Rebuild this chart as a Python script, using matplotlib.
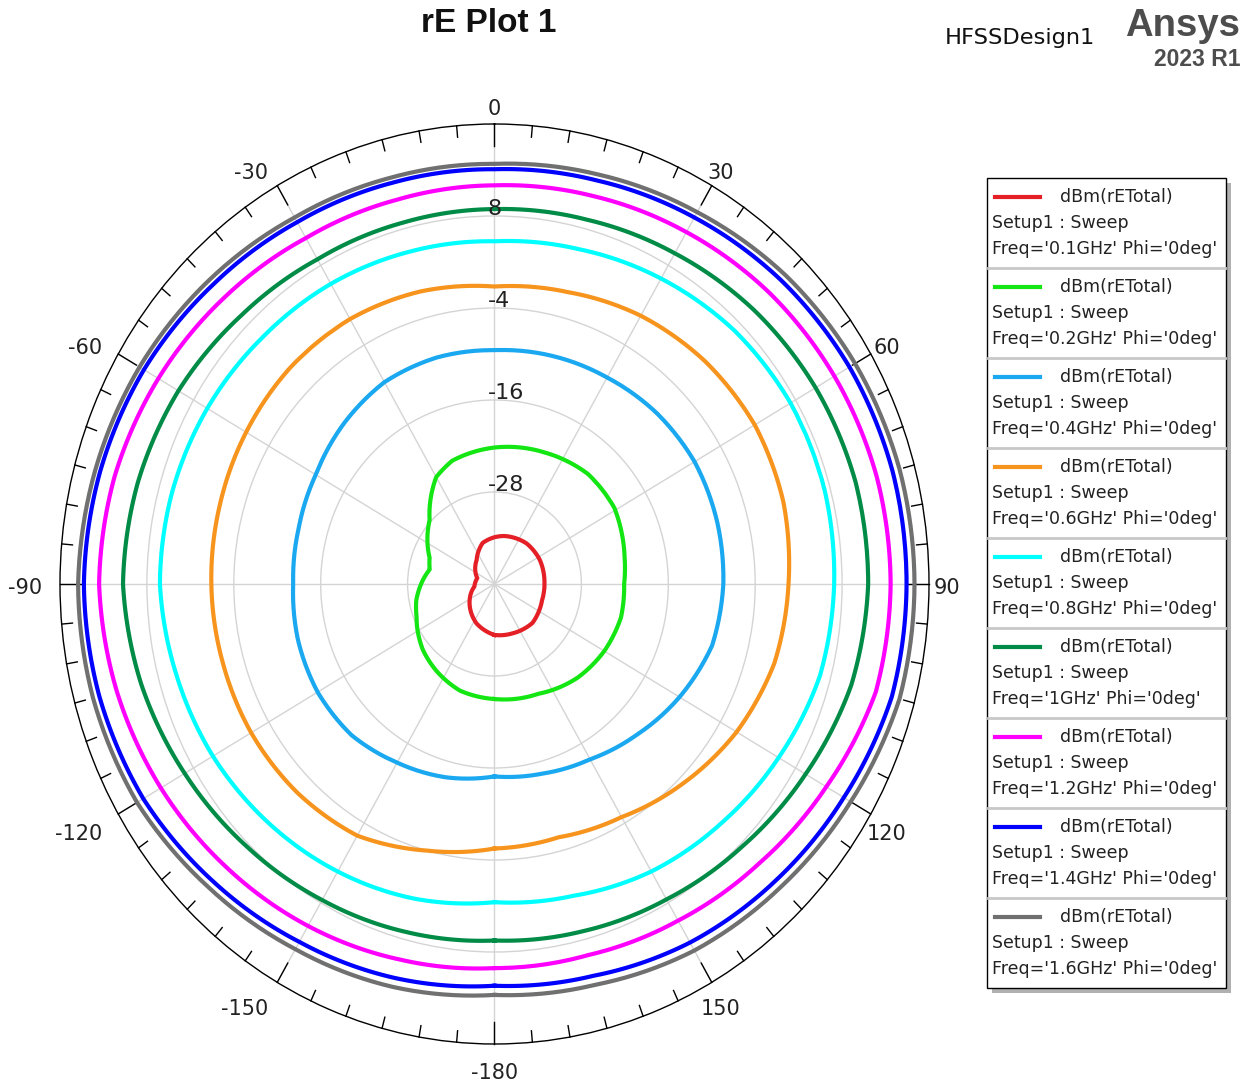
import numpy as np
import matplotlib.pyplot as plt
import matplotlib.transforms as mtransforms
from matplotlib.lines import Line2D
from matplotlib.patches import Rectangle

W, H = 1243, 1082
plt.rcParams['font.family'] = ['DejaVu Sans']

# ---- data (dBm vs theta, deg clockwise from top) ----
freqs = ['0.1GHz', '0.2GHz', '0.4GHz', '0.6GHz', '0.8GHz', '1GHz', '1.2GHz', '1.4GHz', '1.6GHz']
colors = ['#e41f26', '#14e614', '#1aa8f0', '#f7941d', '#00ffff', '#008c46', '#ff00ff', '#0000ff', '#707070']

ang15 = [-180, -165, -150, -135, -120, -105, -90, -75, -60, -45, -30, -15, 0,
         15, 30, 45, 60, 75, 90, 105, 120, 135, 150, 165, 180]

red_ang = [-180, -154, -121, -97, -72, -38, -17, 0, 12, 40, 63, 89, 108, 134, 159, 180]
red_val = [-33.35, -34.3, -36.0, -37.2, -37.5, -36.0, -34.4, -33.9, -33.6, -33.1, -33.0, -33.1, -33.1, -32.7, -33.1, -33.35]

green_ang = [-180, -161, -145, -131, -118, -112, -101, -87, -78, -69, -47, -30, -20, 0,
             22, 42, 59, 79, 90, 104, 120, 137, 157, 180]
green_val = [-25.0, -25.3, -26.1, -26.9, -27.9, -28.4, -29.0, -30.1, -30.85, -30.4, -27.75, -23.9, -22.9, -22.2,
             -21.5, -20.7, -20.7, -21.7, -22.1, -22.0, -22.5, -23.25, -24.45, -25.0]

ltblue_val = [-14.9, -13.9, -13.1, -12.1, -11.8, -11.9, -12.2, -12.0, -11.5, -10.5, -9.6, -9.4, -9.5,
              -9.2, -8.9, -8.4, -8.1, -8.2, -8.4, -8.9, -10.5, -12.2, -13.6, -14.4, -14.9]
orange_val = [-5.5, -4.0, -2.1, -1.5, -1.2, -1.1, -0.9, -0.7, -0.4, -0.1, -0.1, -0.5, -1.2,
              -0.6, 0.4, 1.1, 1.5, 1.3, 0.6, 0.0, -1.4, -3.2, -4.9, -5.8, -5.5]
cyan_val = [1.5, 2.5, 3.3, 4.1, 4.9, 5.5, 6.2, 6.1, 5.8, 5.4, 5.2, 4.9, 4.7,
            5.2, 6.0, 6.8, 7.2, 7.2, 6.9, 6.5, 5.3, 4.2, 3.3, 2.1, 1.5]
dkgreen_val = [6.5, 7.0, 7.6, 8.4, 9.4, 10.5, 11.3, 11.0, 10.4, 9.5, 8.9, 8.8, 8.9,
               9.2, 9.8, 10.6, 11.2, 11.6, 11.6, 11.0, 9.6, 8.4, 7.5, 6.9, 6.5]
magenta_val = [10.1, 10.7, 11.5, 12.3, 13.2, 14.0, 14.6, 14.3, 13.6, 12.8, 12.1, 11.9, 12.0,
               12.4, 13.0, 13.7, 14.2, 14.6, 14.7, 14.5, 12.9, 11.6, 10.7, 10.1, 10.1]
blue_val = [12.4, 13.2, 13.9, 14.9, 16.0, 16.5, 16.7, 16.4, 15.9, 15.1, 14.5, 14.2, 14.1,
            14.5, 15.2, 16.0, 16.6, 16.9, 16.9, 16.8, 15.7, 14.8, 14.0, 12.9, 12.4]
gray_val = [13.6, 14.4, 15.0, 15.9, 17.0, 17.4, 17.5, 17.1, 16.6, 15.9, 15.2, 14.9, 14.8,
            15.3, 16.0, 16.9, 17.5, 17.9, 18.0, 17.9, 16.8, 15.9, 15.2, 14.1, 13.6]

curves = [(red_ang, red_val), (green_ang, green_val), (ang15, ltblue_val), (ang15, orange_val),
          (ang15, cyan_val), (ang15, dkgreen_val), (ang15, magenta_val), (ang15, blue_val), (ang15, gray_val)]

r_ticks = [-28, -16, -4, 8]
theta_labels = [0, 30, 60, 90, 120, 150, -180, -150, -120, -90, -60, -30]

def fx(x):
    return x / W

def fy(y):
    return 1 - y / H

fig = plt.figure(figsize=(W / 100, H / 100), dpi=100)
ax = fig.add_axes([fx(60), fy(1044), (929 - 60) / W, (1044 - 124) / H], projection='polar')
ax.set_aspect('auto')
ax.set_theta_zero_location('N')
ax.set_theta_direction(-1)
ax.set_rlim(-40, 20)
ax.set_rticks(r_ticks)
ax.set_thetagrids(range(0, 360, 30))
ax.set_xticklabels([])
ax.set_yticklabels([])
ax.tick_params(length=0)
ax.grid(color='#d4d4d4', lw=1)
ax.spines['polar'].set_color('black')
ax.spines['polar'].set_linewidth(1)

# tick marks round the rim every 5 deg
for d in range(0, 360, 5):
    L = 2.9 if d % 30 == 0 else 1.5
    ax.plot([np.deg2rad(d)] * 2, [20 - L, 20], color='black', lw=1, clip_on=False)

for (a, v), c in zip(curves, colors):
    ln, = ax.plot(np.deg2rad(a), v, color=c, lw=3, solid_joinstyle='round')
    ln.get_path()._interpolation_steps = 30  # draw arcs between points

# radial labels
off = mtransforms.offset_copy(ax.transData, fig=fig, x=-7, y=7, units='dots')
for v in r_ticks:
    ax.text(0, v, str(v), transform=off, ha='left', va='center', fontsize=16, color='#222222')

# angle labels
for d in theta_labels:
    dy = -10 if abs(d) > 90 else -4
    tr = mtransforms.offset_copy(ax.transData, fig=fig, x=0, y=dy, units='dots')
    ha = 'right' if (d < 0 and d != -180) else 'center'
    ax.text(np.deg2rad(d), 22.5, str(d), transform=tr, ha=ha, va='center', fontsize=15,
            color='#222222', clip_on=False)

# title and header
fig.text(fx(489), fy(24), 'rE Plot 1', ha='center', va='center', fontsize=24, fontweight='bold',
         color='#111111', family='Liberation Sans')
fig.text(fx(945), fy(38), 'HFSSDesign1', ha='left', va='center', fontsize=16.2, color='#111111')
fig.text(fx(1240), fy(26), 'Ansys', ha='right', va='center', fontsize=27.5, fontweight='bold',
         color='#4d4d4d', family='Liberation Sans')
fig.text(fx(1240), fy(59), '2023 R1', ha='right', va='center', fontsize=16.5, fontweight='bold',
         color='#4d4d4d', family='Liberation Sans')

# legend
lx0, lx1, ly0, ly1 = 987, 1226, 178, 988
fig.patches.append(Rectangle((fx(lx0 + 5), fy(ly1 + 5)), (lx1 - lx0) / W, (ly1 - ly0) / H,
                             transform=fig.transFigure, facecolor='#b0b0b0', edgecolor='none'))
fig.patches.append(Rectangle((fx(lx0), fy(ly1)), (lx1 - lx0) / W, (ly1 - ly0) / H,
                             transform=fig.transFigure, facecolor='white', edgecolor='black', lw=1))
step = (ly1 - ly0) / len(freqs)
for i, (f, c) in enumerate(zip(freqs, colors)):
    top = ly0 + step * i
    fig.lines.append(Line2D([fx(995), fx(1040)], [fy(top + 19)] * 2, transform=fig.transFigure, color=c, lw=3))
    fig.text(fx(1060), fy(top + 19), 'dBm(rETotal)', ha='left', va='center', fontsize=12.5, color='#222222')
    fig.text(fx(992), fy(top + 45), 'Setup1 : Sweep', ha='left', va='center', fontsize=12.5, color='#222222')
    fig.text(fx(992), fy(top + 71), "Freq='%s' Phi='0deg'" % f, ha='left', va='center', fontsize=12.5,
             color='#222222')
    if i < len(freqs) - 1:
        fig.lines.append(Line2D([fx(lx0 + 1), fx(lx1 - 1)], [fy(top + step)] * 2, transform=fig.transFigure,
                                color='#c8c8c8', lw=2))

fig.savefig('out.png', dpi=100)
